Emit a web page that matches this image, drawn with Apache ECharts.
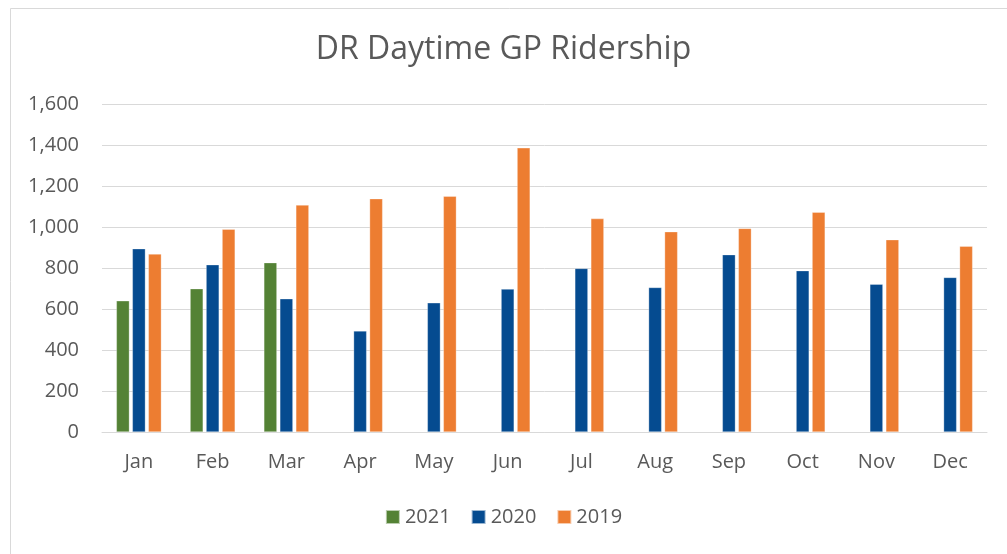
<!DOCTYPE html>
<html>
<head>
<meta charset="utf-8">
<script src="https://cdn.jsdelivr.net/npm/echarts@6/dist/echarts.min.js"></script>
<style>
html,body{margin:0;padding:0;background:#fff;}
#chart{width:1007px;height:554px;}
</style>
</head>
<body>
<div id="chart"></div>
<script>
const categories = ['Jan','Feb','Mar','Apr','May','Jun','Jul','Aug','Sep','Oct','Nov','Dec'];
const seriesNames = ['2021','2020','2019'];
const values2021 = [640, 699, 826, null, null, null, null, null, null, null, null, null];
const values2020 = [894, 816, 650, 493, 630, 697, 798, 705, 865, 787, 721, 754];
const values2019 = [868, 989, 1107, 1138, 1150, 1386, 1041, 977, 993, 1072, 938, 906];
const yTicks = [0, 200, 400, 600, 800, 1000, 1200, 1400, 1600];
const colors = ['#548235', '#054B90', '#ED7D31'];

const chart = echarts.init(document.getElementById('chart'));
const font = 'Open Sans';
const dataSets = [values2021, values2020, values2019];
chart.setOption({
  animation: false,
  backgroundColor: '#fff',
  textStyle: { fontFamily: font },
  graphic: [{
    type: 'rect', left: 8, top: 6, silent: true,
    shape: { width: 1010, height: 547 },
    style: { fill: 'none', stroke: '#D9D9D9', lineWidth: 1 }
  }],
  title: {
    text: 'DR Daytime GP Ridership',
    left: 'center', top: 29,
    textStyle: { fontFamily: font, fontSize: 32, fontWeight: 'normal', color: '#595959' }
  },
  legend: {
    bottom: 22, left: 'center',
    itemWidth: 14, itemHeight: 14, itemGap: 20,
    icon: 'rect',
    textStyle: { fontFamily: font, fontSize: 20, color: '#595959' },
    data: seriesNames
  },
  grid: { left: 102, right: 20, top: 104, bottom: 122, containLabel: false },
  xAxis: {
    type: 'category', data: categories,
    axisLine: { lineStyle: { color: '#D9D9D9', width: 1 } },
    axisTick: { show: false },
    axisLabel: { color: '#595959', fontSize: 20, fontFamily: font, margin: 20 }
  },
  yAxis: {
    type: 'value', min: yTicks[0], max: yTicks[yTicks.length - 1], interval: 200,
    axisLine: { show: false }, axisTick: { show: false },
    splitLine: { lineStyle: { color: '#D9D9D9', width: 1 } },
    axisLabel: {
      color: '#595959', fontSize: 20, fontFamily: font, margin: 23,
      formatter: v => v.toLocaleString('en-US')
    }
  },
  series: seriesNames.map((n, i) => ({
    name: n, type: 'bar', data: dataSets[i],
    barGap: '23%', barCategoryGap: '39%',
    itemStyle: { color: colors[i], borderColor: 'rgba(255,255,255,0.6)', borderWidth: 0.5 }
  }))
});
</script>
</body>
</html>
